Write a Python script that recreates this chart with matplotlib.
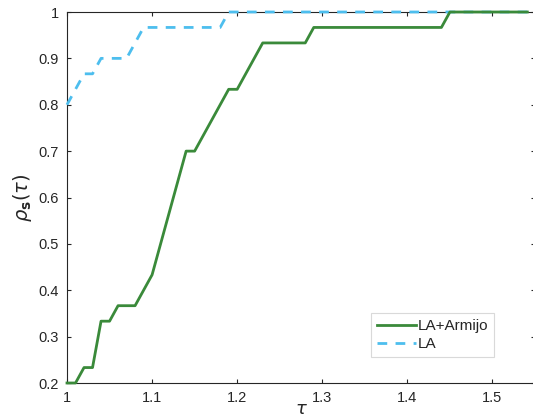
import matplotlib
matplotlib.use('Agg')
import matplotlib.pyplot as plt

plt.rcParams['font.family'] = ['Liberation Sans', 'DejaVu Sans']
plt.rcParams['mathtext.fontset'] = 'dejavusans'

# LA+Armijo profile
tauArm = [1.00, 1.01, 1.02, 1.03, 1.04, 1.05, 1.06, 1.08, 1.10, 1.14, 1.15,
          1.19, 1.20, 1.23, 1.28, 1.29, 1.44, 1.45, 1.541]
rhoArm = [0.2, 0.2, 0.2333, 0.2333, 0.3333, 0.3333, 0.3667, 0.3667, 0.4333, 0.7, 0.7,
          0.8333, 0.8333, 0.9333, 0.9333, 0.9667, 0.9667, 1.0, 1.0]

# LA profile
tauLA = [1.00, 1.02, 1.03, 1.04, 1.07, 1.09, 1.18, 1.19, 1.541]
rhoLA = [0.8, 0.8667, 0.8667, 0.9, 0.9, 0.9667, 0.9667, 1.0, 1.0]

xTicks = [1, 1.1, 1.2, 1.3, 1.4, 1.5]
yTicks = [0.2, 0.3, 0.4, 0.5, 0.6, 0.7, 0.8, 0.9, 1]

fig = plt.figure(figsize=(5.33, 4.19), dpi=100)
ax = fig.add_axes([67/533, 1 - 383/419, 468/533, 371/419])

ax.plot(tauArm, rhoArm, color='#3a8a3a', lw=2, label='LA+Armijo', clip_on=False, zorder=4)
ax.plot(tauLA, rhoLA, color='#4dbeee', lw=2, ls=(0, (3.5, 3)), label='LA', clip_on=False, zorder=3)

ax.set_xlim(1, 1.55)
ax.set_ylim(0.2, 1)
ax.set_xticks(xTicks)
ax.set_xticklabels(['1', '1.1', '1.2', '1.3', '1.4', '1.5'])
ax.set_yticks(yTicks)
ax.set_yticklabels(['0.2', '0.3', '0.4', '0.5', '0.6', '0.7', '0.8', '0.9', '1'])
ax.tick_params(direction='in', top=True, right=True, length=3, width=0.8,
               labelsize=10.5, colors='#262626', pad=6)
for s in ax.spines.values():
    s.set_color('#262626')
    s.set_linewidth(0.8)
    s.set_zorder(2)

ax.set_xlabel(r'$\tau$', fontsize=13, color='#262626', labelpad=-3)
ax.set_ylabel(r'$\rho_{\mathbf{s}}(\tau)$', fontsize=14, color='#262626', labelpad=3)

leg = ax.legend(loc='lower left', bbox_to_anchor=(0.65, 0.07), fontsize=11,
                frameon=True, fancybox=False, handlelength=2.5, handletextpad=0.15,
                borderpad=0.4, labelspacing=0.25, borderaxespad=0)
leg.get_frame().set_edgecolor('#d0d0d0')
leg.get_frame().set_linewidth(0.8)
for t in leg.get_texts():
    t.set_color('#262626')

plt.savefig('out.png', dpi=100)
